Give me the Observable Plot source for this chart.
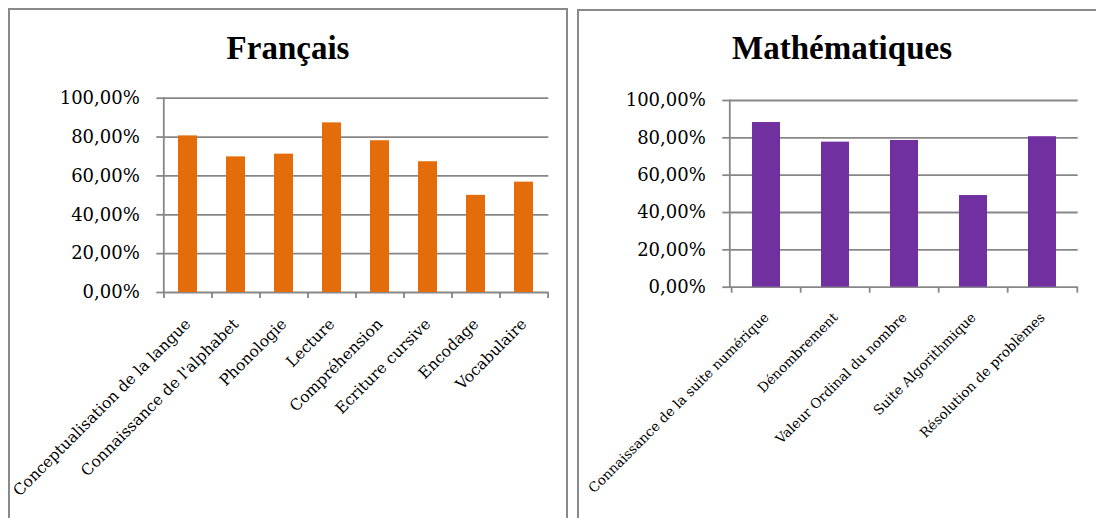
<!DOCTYPE html>
<html>
<head>
<meta charset="utf-8">
<script src="https://cdn.jsdelivr.net/npm/d3@7"></script>
<script src="https://cdn.jsdelivr.net/npm/@observablehq/plot@0.6"></script>
<style>
  html, body { margin: 0; padding: 0; background: #fff; width: 1096px; height: 518px; overflow: hidden; }
  .panel { position: absolute; box-sizing: border-box; border: 2px solid #8a8a8a; background: #fff; }
  .title { position: absolute; left: 0; right: 0; text-align: center; font-family: "Liberation Serif", serif; font-weight: bold; font-size: 33px; line-height: 33px; color: #000; white-space: nowrap; }
  .chart { position: absolute; left: 0; top: 69px; }
  .chart svg text { font-family: "DejaVu Serif", serif; }
</style>
</head>
<body>
<div class="panel" id="p1" style="left:8px; top:8px; width:560px; height:620px;">
  <div class="title" style="top:22px;">Français</div>
  <div class="chart" id="c1" style="top:70px;"></div>
</div>
<div class="panel" id="p2" style="left:577px; top:9px; width:530px; height:620px;">
  <div class="title" style="top:21px;">Mathématiques</div>
  <div class="chart" id="c2" style="top:69px;"></div>
</div>
<script>
// ---- data ----
const francaisCategories = [
  "Conceptualisation de la langue",
  "Connaissance de l'alphabet",
  "Phonologie",
  "Lecture",
  "Compréhension",
  "Ecriture cursive",
  "Encodage",
  "Vocabulaire"
];
const francaisValues = [80.6, 69.8, 71.2, 87.3, 78.1, 67.3, 50.0, 56.8];

const mathCategories = [
  "Connaissance de la suite numérique",
  "Dénombrement",
  "Valeur Ordinal du nombre",
  "Suite Algorithmique",
  "Résolution de problèmes"
];
const mathValues = [88.2, 77.7, 78.6, 49.1, 80.6];

const yTicks = [0, 20, 40, 60, 80, 100];

// ---- helpers ----
const grid = "#878787";
const fmt = d => d.toFixed(2).replace(".", ",") + "%";

function makeChart(cats, vals, color, cfg) {
  const data = cats.map((c, i) => ({cat: c, value: vals[i]}));
  const step = (cfg.width - cfg.marginLeft - cfg.marginRight) / cats.length;
  return Plot.plot({
    width: cfg.width,
    height: cfg.height,
    marginTop: cfg.marginTop,
    marginBottom: cfg.marginBottom,
    marginLeft: cfg.marginLeft,
    marginRight: cfg.marginRight,
    x: {domain: cats, paddingInner: 0.6, paddingOuter: 0.3, axis: null},
    y: {domain: [0, 100], axis: null},
    style: {fontFamily: "DejaVu Serif", fontSize: "18px", color: "#000", background: "transparent", overflow: "visible"},
    marks: [
      Plot.ruleY(yTicks, {stroke: grid, strokeWidth: 1.8}),
      Plot.barY(data, {x: "cat", y: "value", fill: color}),
      Plot.frame({anchor: "left", stroke: grid, strokeWidth: 1.8}),
      Plot.axisY({ticks: yTicks, tickSize: 7, tickPadding: 17, tickFormat: fmt, stroke: grid, strokeWidth: 1.8, label: null, fontSize: 18, fill: "#000"}),
      Plot.axisX({tickSize: 6, tickFormat: () => "", dx: -step / 2, stroke: grid, strokeWidth: 1.8, label: null}),
      Plot.axisX({ticks: [cats[cats.length - 1]], tickSize: 6, tickFormat: () => "", dx: step / 2, stroke: grid, strokeWidth: 1.8, label: null}),
      Plot.axisX({tickSize: 0, tickPadding: 0, tickRotate: -45, dy: cfg.labelDy, dx: cfg.labelDx, fontSize: cfg.labelSize, label: null, fill: "#000"})
    ]
  });
}

document.getElementById("c1").appendChild(makeChart(francaisCategories, francaisValues, "#E46C0A", {
  width: 556, height: 438, marginTop: 17.7, marginBottom: 226, marginLeft: 153.3, marginRight: 17.7,
  labelDy: 29, labelDx: 0, labelSize: 15.5
}));
document.getElementById("c2").appendChild(makeChart(mathCategories, mathValues, "#7030A0", {
  width: 526, height: 438, marginTop: 20, marginBottom: 231.3, marginLeft: 150.3, marginRight: 27.3,
  labelDy: 28, labelDx: 0, labelSize: 13.5
}));
</script>
</body>
</html>
